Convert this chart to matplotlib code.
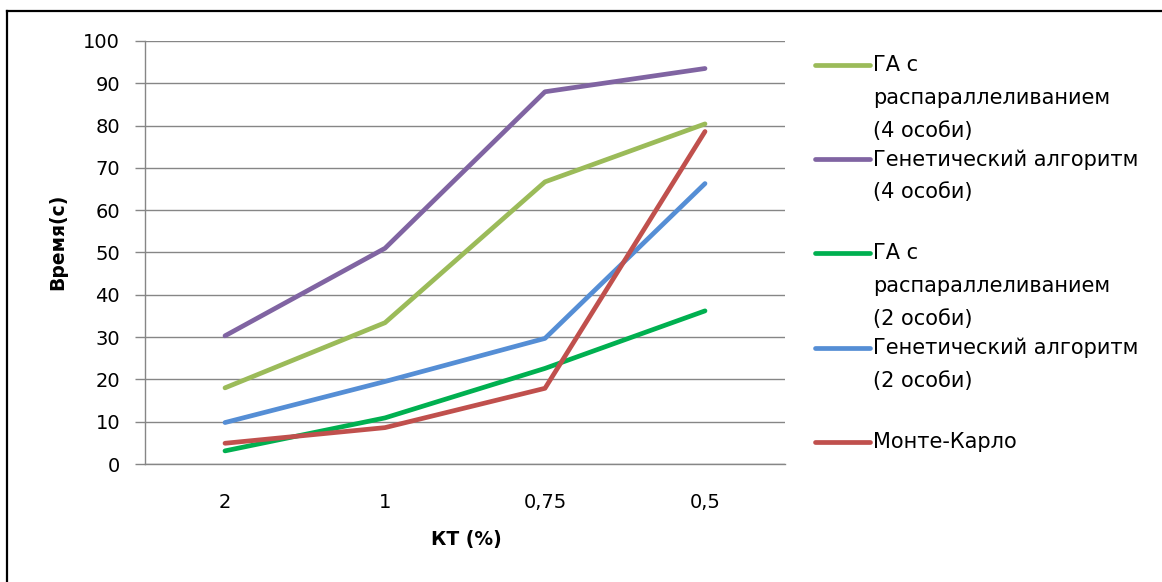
import matplotlib
matplotlib.use("Agg")
import matplotlib.pyplot as plt
from matplotlib.lines import Line2D

plt.rcParams['font.family'] = ['DejaVu Sans']

categories = ["2", "1", "0,75", "0,5"]

series_labels = [
    "ГА с\nраспараллеливанием\n(4 особи)",
    "Генетический алгоритм\n(4 особи)",
    "ГА с\nраспараллеливанием\n(2 особи)",
    "Генетический алгоритм\n(2 особи)",
    "Монте-Карло",
]
ga_par_4 = [18.0, 33.4, 66.7, 80.4]
ga_4 = [30.3, 51.0, 88.0, 93.5]
ga_par_2 = [3.1, 10.9, 22.6, 36.2]
ga_2 = [9.8, 19.5, 29.7, 66.3]
monte_carlo = [4.9, 8.6, 17.9, 78.6]
series_values = [ga_par_4, ga_4, ga_par_2, ga_2, monte_carlo]
series_colors = ["#9BBB59", "#8064A2", "#00B050", "#558ED5", "#C0504D"]

y_ticks = list(range(0, 101, 10))

W, H = 1162, 582
fig = plt.figure(figsize=(W / 100, H / 100), dpi=100)
ax = fig.add_axes([145 / W, 1 - 464 / H, (785 - 145) / W, (464 - 41) / H])

x = list(range(len(categories)))
for vals, col in zip(series_values, series_colors):
    ax.plot(x, vals, color=col, linewidth=3.4, solid_capstyle='round',
            solid_joinstyle='round', zorder=3)

grid_col = "#868686"
ax.set_xlim(-0.5, len(categories) - 0.5)
ax.set_ylim(0, 100)
ax.set_yticks(y_ticks)
ax.set_xticks(x)
ax.set_xticklabels(categories)
ax.yaxis.grid(True, color=grid_col, linewidth=1.0, zorder=1)
ax.set_axisbelow(True)
for s in ("top", "right"):
    ax.spines[s].set_visible(False)
for s in ("left", "bottom"):
    ax.spines[s].set_color(grid_col)
    ax.spines[s].set_linewidth(1.0)
ax.tick_params(axis='y', length=7, width=1.0, color=grid_col, pad=11,
               labelsize=14, labelcolor="black")
ax.tick_params(axis='x', length=0, pad=21, labelsize=14, labelcolor="black")

fig.text(58 / W, 1 - 242 / H, "Время(с)", rotation=90, ha='center', va='center',
         fontsize=13.5, fontweight='bold')
fig.text(466 / W, 1 - 540 / H, "КТ (%)", ha='center', va='center',
         fontsize=13.5, fontweight='bold')

# legend drawn on the right, handle aligned with the first text line
entry_y = [65, 159, 253, 348, 442]
for lbl, col, yy in zip(series_labels, series_colors, entry_y):
    fig.add_artist(Line2D([815 / W, 870 / W], [1 - yy / H, 1 - yy / H],
                          color=col, linewidth=3.4, solid_capstyle='round',
                          transform=fig.transFigure))
    fig.text(873 / W, 1 - (yy - 10) / H, lbl, ha='left', va='top',
             fontsize=15, linespacing=1.8)

# outer frame
fig.add_artist(Line2D([7 / W, 1.0], [1 - 11 / H, 1 - 11 / H], color="black",
                      linewidth=1.6, transform=fig.transFigure))
fig.add_artist(Line2D([7 / W, 7 / W], [0.0, 1 - 11 / H], color="black",
                      linewidth=1.6, transform=fig.transFigure))

fig.savefig("out.png", dpi=100)
